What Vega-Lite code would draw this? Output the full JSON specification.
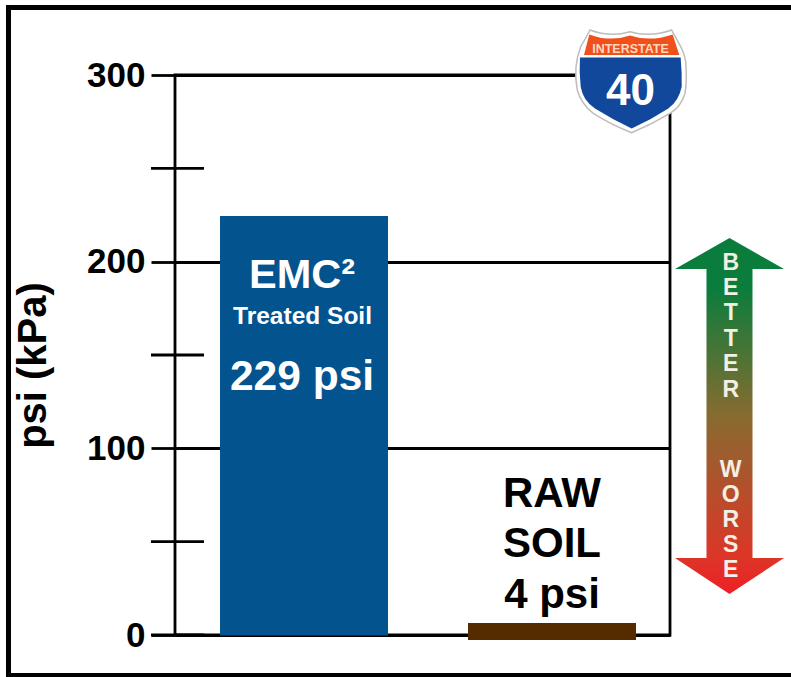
{"$schema":"https://vega.github.io/schema/vega-lite/v6.json","width":495,"height":560,"autosize":{"type":"none"},"padding":{"left":175,"top":75,"right":121,"bottom":42},"background":"white","config":{"font":"Liberation Sans","view":{"stroke":"black","strokeWidth":2.8}},"encoding":{"x":{"field":"slot","type":"quantitative","scale":{"domain":[0.4798,2.4758],"nice":false,"zero":false,"padding":0},"axis":null},"y":{"field":"psi","type":"quantitative","scale":{"domain":[0,300],"nice":false},"axis":{"values":[0,100,200,300],"title":"psi (kPa)","titleFontSize":40,"titleFontWeight":"bold","titleColor":"black","titleX":-122,"titleY":290,"labelFontSize":35,"labelFontWeight":"bold","labelColor":"black","labelPadding":6,"tickSize":24,"tickWidth":2.8,"tickColor":"black","domain":false,"grid":true,"gridColor":"black","gridWidth":2.8,"gridOpacity":1}}},"layer":[{"data":{"values":[{"slot":-0.1916,"slot2":2.98,"psi":336.2,"psi2":-21.7}]},"mark":{"type":"rect","fill":null,"stroke":"black","strokeWidth":5},"encoding":{"x2":{"field":"slot2"},"y2":{"field":"psi2"}}},{"data":{"values":[{"psi":0,"slot":0.3831,"slot2":0.5968},{"psi":50,"slot":0.3831,"slot2":0.5968},{"psi":150,"slot":0.3831,"slot2":0.5968},{"psi":250,"slot":0.3831,"slot2":0.5968}]},"mark":{"type":"rule","color":"black","strokeWidth":2.8},"encoding":{"x2":{"field":"slot2"}}},{"data":{"values":[{"soil":"EMC2 Treated Soil","slot":1,"psi":224.5,"base":-0.3,"colour":"EMC"},{"soil":"Raw Soil","slot":2,"psi":6.4,"base":-2.7,"colour":"RAW"}]},"mark":{"type":"bar","size":168,"orient":"vertical"},"encoding":{"y2":{"field":"base"},"color":{"field":"colour","type":"nominal","legend":null,"scale":{"domain":["EMC","RAW"],"range":["#03538f","#552b00"]}}}},{"data":{"values":[{"slot":2.3185,"psi":296.4}]},"mark":{"type":"point","filled":true,"opacity":1,"size":4,"fill":"white","stroke":"#bdbdbd","strokeWidth":1.5,"shape":"M-41,-51.7 Q-21,-44 -1,-50 Q19,-44 40.7,-51.7 Q46,-42 49.7,-35 Q55,-25 55,-15 Q56,0 54,11.7 Q50,25 39,31.7 Q20,43 0.7,51 Q-20,43 -37.7,31.7 Q-50,22 -53.7,8.3 Q-56,-3 -55,-15 Q-54,-25 -50.3,-35 Q-46,-42 -41,-51.7 Z"}},{"data":{"values":[{"slot":2.3185,"psi":296.4}]},"mark":{"type":"point","filled":true,"opacity":1,"size":4,"fill":"#11489c","strokeWidth":0,"shape":"M-51,-24.3 L49.7,-24.3 Q51,-10 50.7,5 Q48,19 37.3,26.7 Q20,38 0.7,46.7 Q-18,38 -36,26.7 Q-48,19 -50.3,5 Q-52,-10 -51,-24.3 Z"}},{"data":{"values":[{"slot":2.3185,"psi":296.4}]},"mark":{"type":"point","filled":true,"opacity":1,"size":4,"fill":"#f0501c","strokeWidth":0,"shape":"M-47,-26.7 L-41.7,-47.3 Q-21,-39.5 -1,-46.3 Q19,-39.5 41.7,-47.3 L48.3,-26.7 Z"}},{"data":{"values":[{"slot":2.7157,"psi":117.3}]},"mark":{"type":"point","filled":true,"opacity":1,"size":4,"strokeWidth":0,"fill":{"gradient":"linear","x1":0,"y1":0,"x2":0,"y2":1,"stops":[{"offset":0,"color":"#0a7d3c"},{"offset":0.14,"color":"#0a7d3c"},{"offset":0.5,"color":"#886b30"},{"offset":0.9,"color":"#dd3528"},{"offset":1,"color":"#ee1f25"}]},"shape":"M0,-178 L54.5,-147 L23,-147 L23,142 L54.5,142 L0,178 L-54.5,142 L-23,142 L-23,-147 L-54.5,-147 Z"}},{"data":{"values":[{"t":"EMC²","slot":0.992,"psi":185.9}]},"mark":{"type":"text","baseline":"alphabetic","fontSize":41.5,"fontWeight":"bold","color":"white"},"encoding":{"text":{"field":"t"}}},{"data":{"values":[{"t":"Treated Soil","slot":0.994,"psi":166.6}]},"mark":{"type":"text","baseline":"alphabetic","fontSize":24.5,"fontWeight":"bold","color":"white"},"encoding":{"text":{"field":"t"}}},{"data":{"values":[{"t":"229 psi","slot":0.992,"psi":131.25}]},"mark":{"type":"text","baseline":"alphabetic","fontSize":42.5,"fontWeight":"bold","color":"white"},"encoding":{"text":{"field":"t"}}},{"data":{"values":[{"t":"RAW","slot":2.0,"psi":68.6},{"t":"SOIL","slot":2.0,"psi":41.8},{"t":"4 psi","slot":2.0,"psi":14.5}]},"mark":{"type":"text","baseline":"alphabetic","fontSize":42,"fontWeight":"bold","color":"black"},"encoding":{"text":{"field":"t"}}},{"data":{"values":[{"t":"B","slot":2.7206,"psi":195.5},{"t":"E","slot":2.7206,"psi":182.1},{"t":"T","slot":2.7206,"psi":168.8},{"t":"T","slot":2.7206,"psi":155},{"t":"E","slot":2.7206,"psi":141.4},{"t":"R","slot":2.7206,"psi":127.7},{"t":"W","slot":2.7206,"psi":84.8},{"t":"O","slot":2.7206,"psi":71.4},{"t":"R","slot":2.7206,"psi":58},{"t":"S","slot":2.7206,"psi":44.6},{"t":"E","slot":2.7206,"psi":30.9}]},"mark":{"type":"text","baseline":"alphabetic","fontSize":23,"fontWeight":"bold","color":"#f3efe2"},"encoding":{"text":{"field":"t"}}},{"data":{"values":[{"t":"INTERSTATE","slot":2.3165,"psi":311.9}]},"mark":{"type":"text","baseline":"alphabetic","fontSize":12.5,"fontWeight":"bold","color":"#ffd9c0"},"encoding":{"text":{"field":"t"}}},{"data":{"values":[{"t":"40","slot":2.3165,"psi":283.9}]},"mark":{"type":"text","baseline":"alphabetic","fontSize":44,"fontWeight":"bold","color":"white"},"encoding":{"text":{"field":"t"}}}]}
